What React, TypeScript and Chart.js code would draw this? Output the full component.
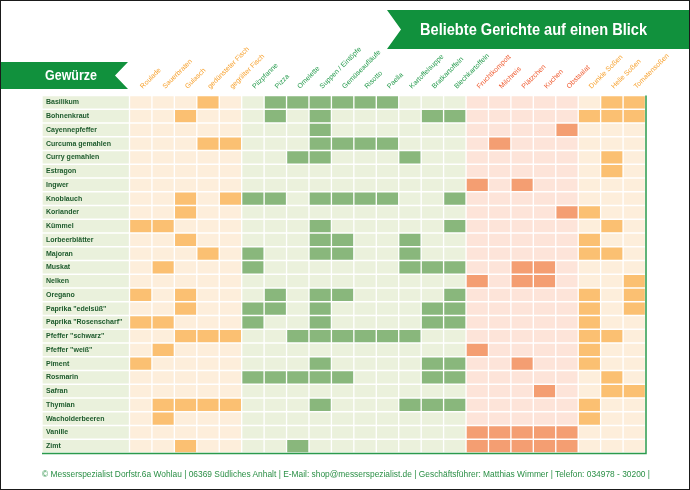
import React, { useEffect, useLayoutEffect, useRef } from 'react';
import { Chart, registerables } from 'chart.js';

Chart.register(...registerables);

// ---------- data ----------
const spices = [
  'Basilikum', 'Bohnenkraut', 'Cayennepfeffer', 'Curcuma gemahlen', 'Curry gemahlen', 'Estragon',
  'Ingwer', 'Knoblauch', 'Koriander', 'Kümmel', 'Lorbeerblätter', 'Majoran', 'Muskat', 'Nelken',
  'Oregano', 'Paprika "edelsüß"', 'Paprika "Rosenscharf"', 'Pfeffer "schwarz"', 'Pfeffer "weiß"',
  'Piment', 'Rosmarin', 'Safran', 'Thymian', 'Wacholderbeeren', 'Vanille', 'Zimt',
];

const dishes = [
  'Roulade', 'Sauerbraten', 'Gulasch', 'gedünsteter Fisch', 'gegrillter Fisch',
  'Pilzpfanne', 'Pizza', 'Omelette', 'Suppen / Eintöpfe', 'Gemüseaufläufe', 'Risotto', 'Paella',
  'Kartoffelsuppe', 'Bratkartoffeln', 'Blechkartoffeln',
  'Fruchtkompott', 'Milchreis', 'Plätzchen', 'Kuchen', 'Obstsalat',
  'Dunkle Soßen', 'Helle Soßen', 'Tomatensoßen',
];

const dishGroups = [
  'fleisch', 'fleisch', 'fleisch', 'fleisch', 'fleisch',
  'herzhaft', 'herzhaft', 'herzhaft', 'herzhaft', 'herzhaft', 'herzhaft', 'herzhaft',
  'herzhaft', 'herzhaft', 'herzhaft',
  'suess', 'suess', 'suess', 'suess', 'suess',
  'sosse', 'sosse', 'sosse',
];

// dish indexes in which each spice is used (same order as spices)
const usage: number[][] = [
  [3, 6, 7, 8, 9, 10, 11, 21, 22],          // Basilikum
  [2, 6, 8, 13, 14, 20, 21, 22],            // Bohnenkraut
  [8, 19],                                  // Cayennepfeffer
  [3, 4, 8, 9, 10, 11, 16],                 // Curcuma
  [7, 8, 12, 21],                           // Curry
  [21],                                     // Estragon
  [15, 17],                                 // Ingwer
  [2, 4, 5, 6, 8, 9, 10, 11, 14],           // Knoblauch
  [2, 19, 20],                              // Koriander
  [0, 1, 8, 14, 21],                        // Kümmel
  [2, 8, 9, 12, 20],                        // Lorbeerblätter
  [3, 5, 8, 9, 12, 20, 21],                 // Majoran
  [1, 5, 12, 13, 14, 17, 18],               // Muskat
  [15, 17, 18, 22],                         // Nelken
  [0, 2, 6, 8, 9, 14, 20, 22],              // Oregano
  [2, 5, 6, 8, 13, 14, 20, 22],             // Paprika edelsüß
  [0, 1, 5, 8, 13, 14, 20],                 // Paprika Rosenscharf
  [2, 3, 4, 7, 8, 9, 10, 11, 12, 20, 21],   // Pfeffer schwarz
  [1, 15, 20],                              // Pfeffer weiß
  [0, 8, 13, 14, 17, 20],                   // Piment
  [5, 6, 7, 8, 9, 13, 14, 21],              // Rosmarin
  [18, 21, 22],                             // Safran
  [1, 2, 3, 4, 8, 12, 13, 14, 20],          // Thymian
  [1, 20],                                  // Wacholderbeeren
  [15, 16, 17, 18, 19],                     // Vanille
  [2, 7, 15, 16, 17, 18, 19],               // Zimt
];

const titleText = 'Beliebte Gerichte auf einen Blick';
const rowHeaderText = 'Gewürze';
const footerText =
  '© Messerspezialist  Dorfstr.6a Wohlau |  06369 Südliches Anhalt |  E-Mail: shop@messerspezialist.de |  Geschäftsführer: Matthias Wimmer |  Telefon: 034978 - 30200 |';

// ---------- styles ----------
const palette: Record<string, { light: string; dark: string; text: string }> = {
  fleisch: { light: '#fdeedb', dark: '#fbc072', text: '#f7a12e' },
  herzhaft: { light: '#ebf1dc', dark: '#89b77c', text: '#249a4c' },
  suess: { light: '#fde4d9', dark: '#f49e72', text: '#ef5a2f' },
  sosse: { light: '#fdeedb', dark: '#fbc072', text: '#f7a12e' },
};
const LABEL_COL = 3.9; // width of spice-name column, in cell units
const LABEL_SHIFT = 0.3; // nudges the slanted dish names to the right inside each column
const GREEN = '#11913d';
const FONT = '"Liberation Sans", Arial, sans-serif';

function FitText({ text, width, style }: { text: string; width: number; style: React.CSSProperties }) {
  const ref = useRef<HTMLSpanElement>(null);
  useLayoutEffect(() => {
    const el = ref.current;
    if (!el) return;
    el.style.transform = 'none';
    const w = el.getBoundingClientRect().width;
    if (w > 0) el.style.transform = `scaleX(${width / w})`;
  }, [text, width]);
  return (
    <span
      ref={ref}
      style={{ ...style, display: 'inline-block', whiteSpace: 'nowrap', transformOrigin: 'left center' }}
    >
      {text}
    </span>
  );
}

const framePlugin = {
  id: 'frame',
  afterDatasetsDraw(chart: any) {
    const { ctx, chartArea } = chart;
    ctx.save();
    ctx.strokeStyle = '#2b9a4c';
    ctx.lineWidth = 1.5;
    ctx.beginPath();
    ctx.moveTo(chartArea.left, chartArea.bottom + 0.5);
    ctx.lineTo(chartArea.right + 0.5, chartArea.bottom + 0.5);
    ctx.lineTo(chartArea.right + 0.5, chartArea.top);
    ctx.stroke();
    ctx.restore();
  },
};

export default function App() {
  const canvasRef = useRef<HTMLCanvasElement>(null);

  useEffect(() => {
    if (!canvasRef.current) return;
    const datasets: any[] = [
      {
        label: rowHeaderText,
        data: spices.map(() => LABEL_COL),
        backgroundColor: '#eaf1dc',
      },
      ...dishes.map((dish, i) => {
        const p = palette[dishGroups[i]];
        return {
          label: dish,
          data: spices.map(() => 1),
          backgroundColor: spices.map((_, r) => (usage[r].includes(i) ? p.dark : p.light)),
        };
      }),
    ].map((d) => ({
      ...d,
      borderColor: '#ffffff',
      borderWidth: 1,
      borderSkipped: false,
      barPercentage: 1,
      categoryPercentage: 1,
    }));

    const chart = new Chart(canvasRef.current, {
      type: 'bar',
      data: { labels: spices, datasets },
      plugins: [framePlugin],
      options: {
        indexAxis: 'y',
        animation: false,
        responsive: false,
        devicePixelRatio: 1,
        layout: { padding: { left: 42, right: 44.5, top: 0.5, bottom: 37 } },
        plugins: { legend: { display: false }, tooltip: { enabled: false }, title: { display: false } },
        scales: {
          x: {
            type: 'linear',
            position: 'top',
            stacked: true,
            min: 0,
            max: LABEL_COL + dishes.length,
            grid: { display: false },
            border: { display: false },
            afterBuildTicks: (s: any) => {
              s.ticks = dishes.map((_, i) => ({ value: LABEL_COL + i + 0.5 + LABEL_SHIFT }));
            },
            afterFit: (s: any) => {
              s.height = 95;
            },
            ticks: {
              autoSkip: false,
              minRotation: 45,
              maxRotation: 45,
              padding: -3,
              color: (ctx: any) => palette[dishGroups[ctx.index]]?.text ?? '#333',
              font: { family: FONT, size: 7 },
              callback: (_v: any, i: number) => dishes[i],
            },
          },
          y: {
            type: 'category',
            position: 'left',
            stacked: true,
            grid: { display: false },
            border: { display: false },
            afterFit: (s: any) => {
              s.width = 0;
            },
            ticks: {
              z: 1,
              mirror: true,
              padding: 4,
              color: '#1d5a2c',
              font: { family: FONT, size: 7, weight: 'bold' },
            },
          },
        },
      } as any,
    });
    return () => chart.destroy();
  }, []);

  return (
    <div style={{ position: 'absolute', left: 0, top: 0, width: 690, height: 490, background: '#fff', overflow: 'hidden', fontFamily: FONT }}>
      <canvas ref={canvasRef} width={690} height={490} style={{ position: 'absolute', left: 0, top: 0, width: 690, height: 490 }} />
      {/* title banner */}
      <div
        style={{
          position: 'absolute', left: 387, top: 10, width: 303, height: 39, background: GREEN,
          clipPath: 'polygon(0 0, 100% 0, 100% 100%, 0 100%, 14px 50%)',
        }}
      />
      <div style={{ position: 'absolute', left: 420, top: 19, height: 22, lineHeight: '22px' }}>
        <FitText text={titleText} width={227} style={{ color: '#fff', fontWeight: 'bold', fontSize: 17 }} />
      </div>
      {/* row header banner */}
      <div
        style={{
          position: 'absolute', left: 0, top: 62, width: 128, height: 27, background: GREEN,
          clipPath: 'polygon(0 0, 100% 0, 115px 50%, 100% 100%, 0 100%)',
        }}
      />
      <div style={{ position: 'absolute', left: 45, top: 66, height: 18, lineHeight: '18px' }}>
        <FitText text={rowHeaderText} width={52} style={{ color: '#fff', fontWeight: 'bold', fontSize: 14 }} />
      </div>
      {/* footer */}
      <div style={{ position: 'absolute', left: 42, top: 466, height: 12, lineHeight: '12px' }}>
        <FitText text={footerText} width={608} style={{ color: '#2a8f45', fontSize: 9 }} />
      </div>
      <div style={{ position: 'absolute', left: 0, top: 0, width: 690, height: 490, boxSizing: 'border-box', border: '1px solid #1a1a1a', pointerEvents: 'none' }} />
    </div>
  );
}
